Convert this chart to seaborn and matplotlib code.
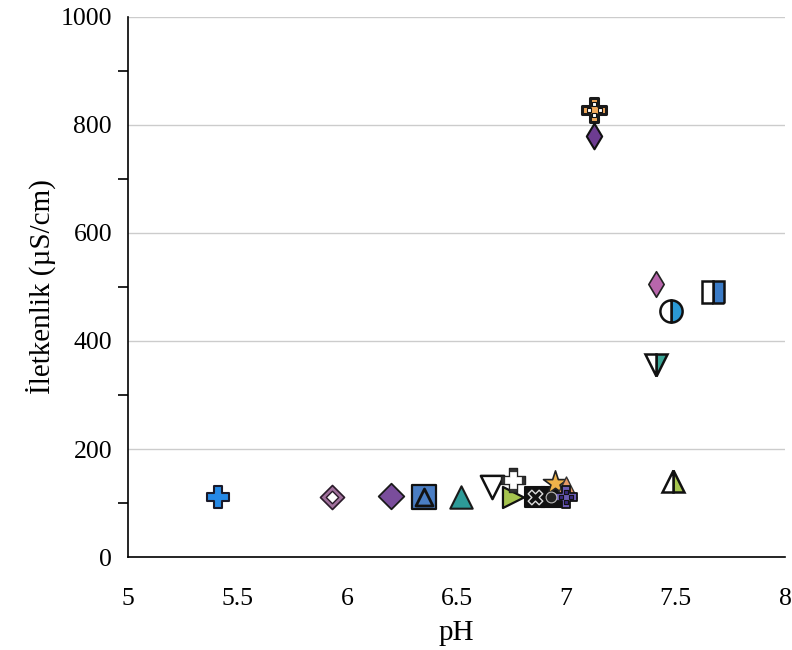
import matplotlib
matplotlib.use("Agg")
import matplotlib.pyplot as plt
import seaborn as sns
import pandas as pd

# Sample measurements: pH and electrical conductivity
ornek = ["S1", "S2", "S3", "S4", "S5", "S6", "S7", "S8", "S9", "S10",
         "S11", "S12", "S13", "S14", "S15", "S16", "S17", "S18", "S19", "S20"]
ph = [5.41, 5.93, 6.20, 6.35, 6.52, 6.66, 6.76, 6.76, 6.86, 6.93,
      6.95, 7.00, 7.00, 7.13, 7.13, 7.41, 7.48, 7.67, 7.41, 7.49]
iletkenlik = [111, 111, 113, 111, 111, 130, 143, 111, 111, 111,
              137, 130, 111, 828, 780, 506, 456, 491, 356, 141]

x_ticks = [5, 5.5, 6, 6.5, 7, 7.5, 8]
x_labels = ["5", "5.5", "6", "6.5", "7", "7.5", "8"]
y_ticks = [0, 200, 400, 600, 800, 1000]

df = pd.DataFrame({"ornek": ornek, "pH": ph, "iletkenlik": iletkenlik})

sns.set_theme(style="white")
plt.rcParams["font.family"] = ["Liberation Serif", "DejaVu Serif"]

fig = plt.figure(figsize=(7.92, 6.5), dpi=100)
ax = fig.add_axes([0.1616, 0.143, 0.8295, 0.831])

# Marker layers per sample: (marker, size, face, edge, linewidth)
layers = {
    "S1": [("P", 260, "#2589e6", "#1a1a2a", 1.5)],
    "S2": [("D", 150, "#a0709c", "#2a1a2a", 1.2), ("D", 40, "white", "#2a1a2a", 1.0)],
    "S3": [("D", 170, "#7a4d9c", "#1a1a1a", 1.3)],
    "S4": [("s", 280, "#4a7ec4", "#111111", 1.6), ("^", 150, "#4a7ec4", "#111111", 2.0)],
    "S5": [("^", 260, "#2d9b98", "#1a1a1a", 1.5)],
    "S6": [("v", 280, "white", "#111111", 1.8)],
    "S8": [(">", 230, "#a6c44f", "#111111", 1.6)],
    "S7": [("P", 300, "#333333", "#222222", 1.0), ("P", 130, "white", "white", 0.5)],
    "S9": [("s", 200, "#111111", "#111111", 1.5), ("X", 110, "#111111", "#dddddd", 1.0)],
    "S10": [("s", 200, "#111111", "#111111", 1.5), ("o", 60, "#222222", "#bbbbbb", 0.8)],
    "S11": [("*", 330, "#f0b24a", "#222222", 1.2)],
    "S12": [("^", 230, "#e79a66", "#333333", 1.0)],
    "S13": [("P", 260, "#6a5bb3", "#111111", 1.3)],
    "S14": [("P", 320, "#f2a95a", "#1a1a1a", 2.2)],
    "S15": [("d", 170, "#6d3c91", "#111111", 1.5)],
    "S16": [("d", 170, "#b866ac", "#222222", 1.2)],
}

# Small squares sitting in the arms of the two patterned plus markers
arm_squares = {
    "S13": ("#3a2a80", 10, 0.024, 10),
    "S14": ("white", 9, 0.025, 10),
}

for key, specs in layers.items():
    sub = df[df["ornek"] == key]
    for i, (m, s, fc, ec, lw) in enumerate(specs):
        sns.scatterplot(data=sub, x="pH", y="iletkenlik", marker=m, s=s,
                        color=fc, edgecolor=ec, linewidth=lw, ax=ax, zorder=3 + i)
    if key in arm_squares:
        fc, s, dx, dy = arm_squares[key]
        for ox, oy in [(-dx, 0), (dx, 0), (0, -dy), (0, dy)]:
            sns.scatterplot(x=sub["pH"] + ox, y=sub["iletkenlik"] + oy, marker="s", s=s,
                            color=fc, edgecolor="#111111", linewidth=0.8, ax=ax, zorder=6)

# Half-filled markers (left half white, right half coloured)
half = {
    "S17": ("o", "#2b9ad6"),
    "S18": ("s", "#3b7bc6"),
    "S19": ("v", "#3aa596"),
    "S20": ("^", "#a7c650"),
}
for key, (m, c) in half.items():
    sub = df[df["ornek"] == key]
    ax.plot(sub["pH"], sub["iletkenlik"], linestyle="none", marker=m, markersize=16,
            fillstyle="right", markerfacecolor=c, markerfacecoloralt="white",
            markeredgecolor="#111111", markeredgewidth=1.8, zorder=4)

ax.set_xlim(5, 8)
ax.set_ylim(0, 1000)
ax.set_xticks(x_ticks)
ax.set_xticklabels(x_labels)
ax.set_yticks(y_ticks)
ax.set_yticks([100, 300, 500, 700, 900], minor=True)
ax.yaxis.grid(True, color="#cccccc", linewidth=1.0)
ax.set_axisbelow(True)

for side in ["top", "right"]:
    ax.spines[side].set_visible(False)
for side in ["left", "bottom"]:
    ax.spines[side].set_color("black")
    ax.spines[side].set_linewidth(1.2)

ax.tick_params(axis="both", which="major", direction="out", length=9.5, width=1.2,
               color="black", labelsize=18.5, labelcolor="black")
ax.tick_params(axis="y", which="major", pad=2)
ax.tick_params(axis="y", which="minor", direction="out", length=7, width=1.2,
               color="black", left=True)
ax.tick_params(axis="x", pad=13)

ax.set_xlabel("pH", fontsize=21, color="black", labelpad=7)
ax.set_ylabel("İletkenlik (µS/cm)", fontsize=21, color="black", labelpad=3)

fig.savefig("out.png", dpi=100)
